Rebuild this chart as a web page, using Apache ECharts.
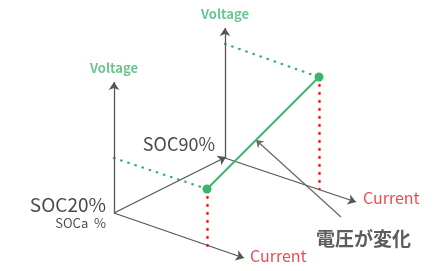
<!DOCTYPE html>
<html>
<head>
<meta charset="utf-8">
<script src="https://cdn.jsdelivr.net/npm/echarts@6/dist/echarts.min.js"></script>
<style>
  html, body { margin: 0; padding: 0; background: #fff; }
  #chart { width: 442px; height: 271px; }
</style>
</head>
<body>
<div id="chart"></div>
<script>
// diagram coordinates (x right, y down), one unit per pixel of the 442x271 picture
const axisArrows = [
  [[114, 213], [114, 82]],   // left voltage axis
  [[114, 213], [226, 157]],  // SOC axis
  [[114, 213], [244, 258]],  // left current axis
  [[225, 158], [225, 28]],   // right voltage axis
  [[225, 158], [356, 202]]   // right current axis
]
const noteArrow = [[[341, 217], [256, 140]]]
const operatingPoints = [[207, 189], [319, 77]]
const voltageGuides = [[[114, 158], [207, 189]], [[225, 44], [319, 77]]]
const currentGuides = [[[207, 189], [207, 246]], [[319, 77], [319, 189]]]
const voltageLabels = [[114, 68, 'Voltage'], [225, 14, 'Voltage']]
const currentLabels = [[250, 256, 'Current'], [363, 198, 'Current']]
const socLabels = [[106, 205, 'SOC20%', 19], [215, 144, 'SOC90%', 18], [106, 223, 'SOCa  %', 13]]
const noteLabels = [[316, 239, '電圧が変化']]

const green = '#3cb56c'
const red = '#ec1c24'
const font = '"Noto Sans CJK JP", "Noto Sans", sans-serif'

const toLines = segs => segs.map(s => ({ coords: s }))

const chart = echarts.init(document.getElementById('chart'))
chart.setOption({
  animation: false,
  grid: { left: 0, right: 0, top: 0, bottom: 0 },
  xAxis: { type: 'value', min: 0, max: 442, show: false },
  yAxis: { type: 'value', min: 0, max: 271, inverse: true, show: false },
  series: [
    {
      type: 'lines',
      coordinateSystem: 'cartesian2d',
      data: toLines(voltageGuides),
      lineStyle: { color: green, width: 2.3, type: [0.6, 6.9], cap: 'round', opacity: 1 },
      symbol: 'none'
    },
    {
      type: 'lines',
      coordinateSystem: 'cartesian2d',
      data: toLines(currentGuides),
      lineStyle: { color: red, width: 2.5, type: [0.8, 7.2], cap: 'round', opacity: 1 },
      symbol: 'none'
    },
    {
      type: 'lines',
      coordinateSystem: 'cartesian2d',
      data: toLines(axisArrows),
      lineStyle: { color: '#555', width: 1.3, opacity: 1 },
      symbol: ['none', 'arrow'],
      symbolSize: 8
    },
    {
      type: 'lines',
      coordinateSystem: 'cartesian2d',
      data: toLines(noteArrow),
      lineStyle: { color: '#6a6a6a', width: 1.3, opacity: 1 },
      symbol: ['none', 'arrow'],
      symbolSize: 7
    },
    {
      type: 'line',
      data: operatingPoints,
      lineStyle: { color: green, width: 2 },
      itemStyle: { color: green },
      symbol: 'circle',
      symbolSize: 9
    },
    {
      type: 'scatter',
      symbolSize: 0,
      data: voltageLabels.map(d => ({ value: [d[0], d[1]], name: d[2] })),
      label: {
        show: true, position: 'inside', formatter: '{b}',
        color: '#44b677', fontSize: 13, fontWeight: 'bold', fontFamily: font
      }
    },
    {
      type: 'scatter',
      symbolSize: 0,
      data: currentLabels.map(d => ({ value: [d[0], d[1]], name: d[2] })),
      label: {
        show: true, position: 'right', distance: 0, formatter: '{b}',
        color: red, fontSize: 16, fontFamily: font
      }
    },
    {
      type: 'scatter',
      symbolSize: 0,
      data: socLabels.map(d => ({ value: [d[0], d[1]], name: d[2], label: { fontSize: d[3] } })),
      label: {
        show: true, position: 'left', distance: 0, formatter: '{b}',
        color: '#1a1a1a', fontFamily: font
      }
    },
    {
      type: 'scatter',
      symbolSize: 0,
      data: noteLabels.map(d => ({ value: [d[0], d[1]], name: d[2] })),
      label: {
        show: true, position: 'right', distance: 0, formatter: '{b}',
        color: '#333', fontSize: 19, fontWeight: 'bold', fontFamily: font
      }
    }
  ]
})
</script>
</body>
</html>
